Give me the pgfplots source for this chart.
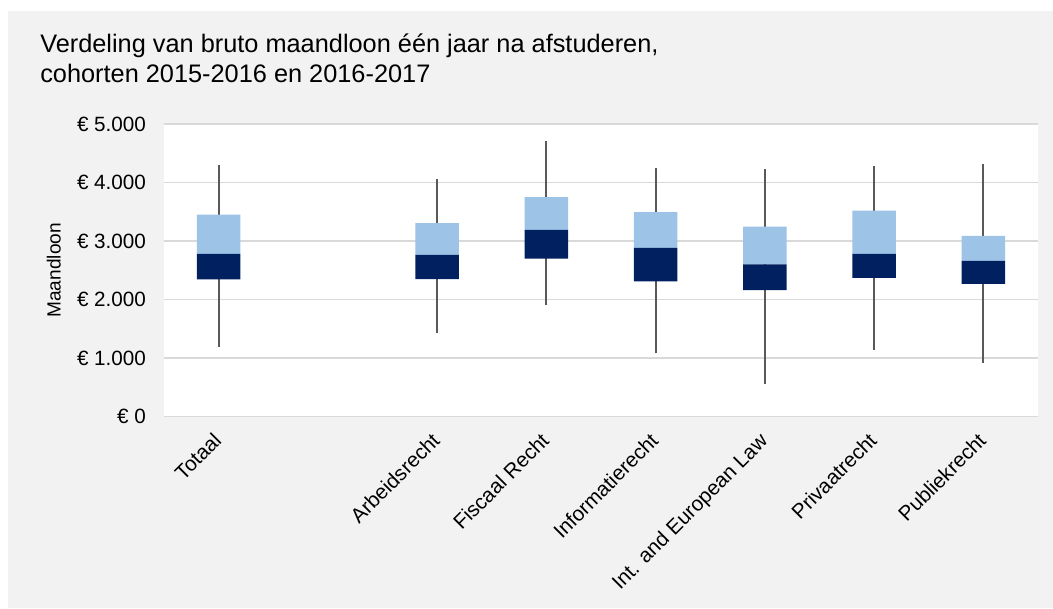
\documentclass[border=0pt]{standalone}
\usepackage{fontspec}
\setmainfont{Liberation Sans}
\usepackage{pgfplots}
\pgfplotsset{compat=1.18}
\definecolor{bggrey}{HTML}{F2F2F2}
\definecolor{gridcol}{HTML}{D9D9D9}
\definecolor{navy}{HTML}{002060}
\definecolor{lightblue}{HTML}{9DC3E6}
\definecolor{whisk}{HTML}{595959}
\pgfplotsset{
  chartgeom/.style={
    at={(123pt,143.5pt)}, anchor=south west,
    scale only axis, width=655.5pt, height=219.5pt,
    xmin=-0.5, xmax=7.5, ymin=0, ymax=5000,
  }
}
\begin{document}
\begin{tikzpicture}
\path[use as bounding box] (0,0) rectangle (789.75pt,456pt);
\fill[white] (0,0) rectangle (789.75pt,456pt);
\fill[bggrey] (6pt,0) rectangle (789.75pt,447.75pt);
\node[anchor=base west, font=\fontsize{19}{22}\selectfont, inner sep=0pt] at (30pt,416.25pt) {Verdeling van bruto maandloon één jaar na afstuderen,};
\node[anchor=base west, font=\fontsize{19}{22}\selectfont, inner sep=0pt] at (30pt,393.75pt) {cohorten 2015-2016 en 2016-2017};
% background axis: grid, labels, whiskers (low to high)
\begin{axis}[
  chartgeom,
  axis background/.style={fill=white},
  axis line style={draw=none},
  major tick length=0pt,
  ymajorgrids, grid style={draw=gridcol, line width=1.2pt},
  ytick={0,1000,2000,3000,4000,5000},
  yticklabels={€ 0,€ 1.000,€ 2.000,€ 3.000,€ 4.000,€ 5.000},
  yticklabel style={font=\fontsize{15.5}{18}\selectfont, xshift=-10pt},
  xtick={0,1,2,3,4,5,6,7},
  xticklabels={Totaal,{},Arbeidsrecht,Fiscaal Recht,Informatierecht,Int. and European Law,Privaatrecht,Publiekrecht},
  xticklabel style={font=\fontsize{15.5}{18}\selectfont, inner sep=0pt, xshift=-5pt, yshift=-11pt, rotate=45, anchor=north east},
  ylabel={Maandloon},
  ylabel style={font=\fontsize{14.3}{17}\selectfont, at={(axis description cs:-0.126,0.5)}, anchor=center},
]
% whisker: (position, lowest) with plus error = highest - lowest
\addplot[draw=none, mark=none,
  error bars/.cd, y dir=plus, y explicit, error mark=none,
  error bar style={draw=whisk, line width=1.4pt}]
  coordinates {
  (0,1190) +- (0,3110)
  (2,1425) +- (0,2640)
  (3,1900) +- (0,2815)
  (4,1080) +- (0,3165)
  (5,565)  +- (0,3665)
  (6,1140) +- (0,3150)
  (7,925)  +- (0,3390)
  };
\end{axis}
% foreground axis: boxes (Q1 base invisible, Q1-median dark, median-Q3 light)
\begin{axis}[
  chartgeom,
  hide axis,
  ybar stacked, bar width=0.4,
]
\addplot[draw=none, fill=none] coordinates {(0,2345) (2,2350) (3,2700) (4,2310) (5,2160) (6,2370) (7,2270)};
\addplot[draw=none, fill=navy] coordinates {(0,435) (2,415) (3,490) (4,575) (5,440) (6,410) (7,390)};
\addplot[draw=none, fill=lightblue] coordinates {(0,670) (2,540) (3,560) (4,610) (5,645) (6,740) (7,430)};
\end{axis}
\end{tikzpicture}
\end{document}
